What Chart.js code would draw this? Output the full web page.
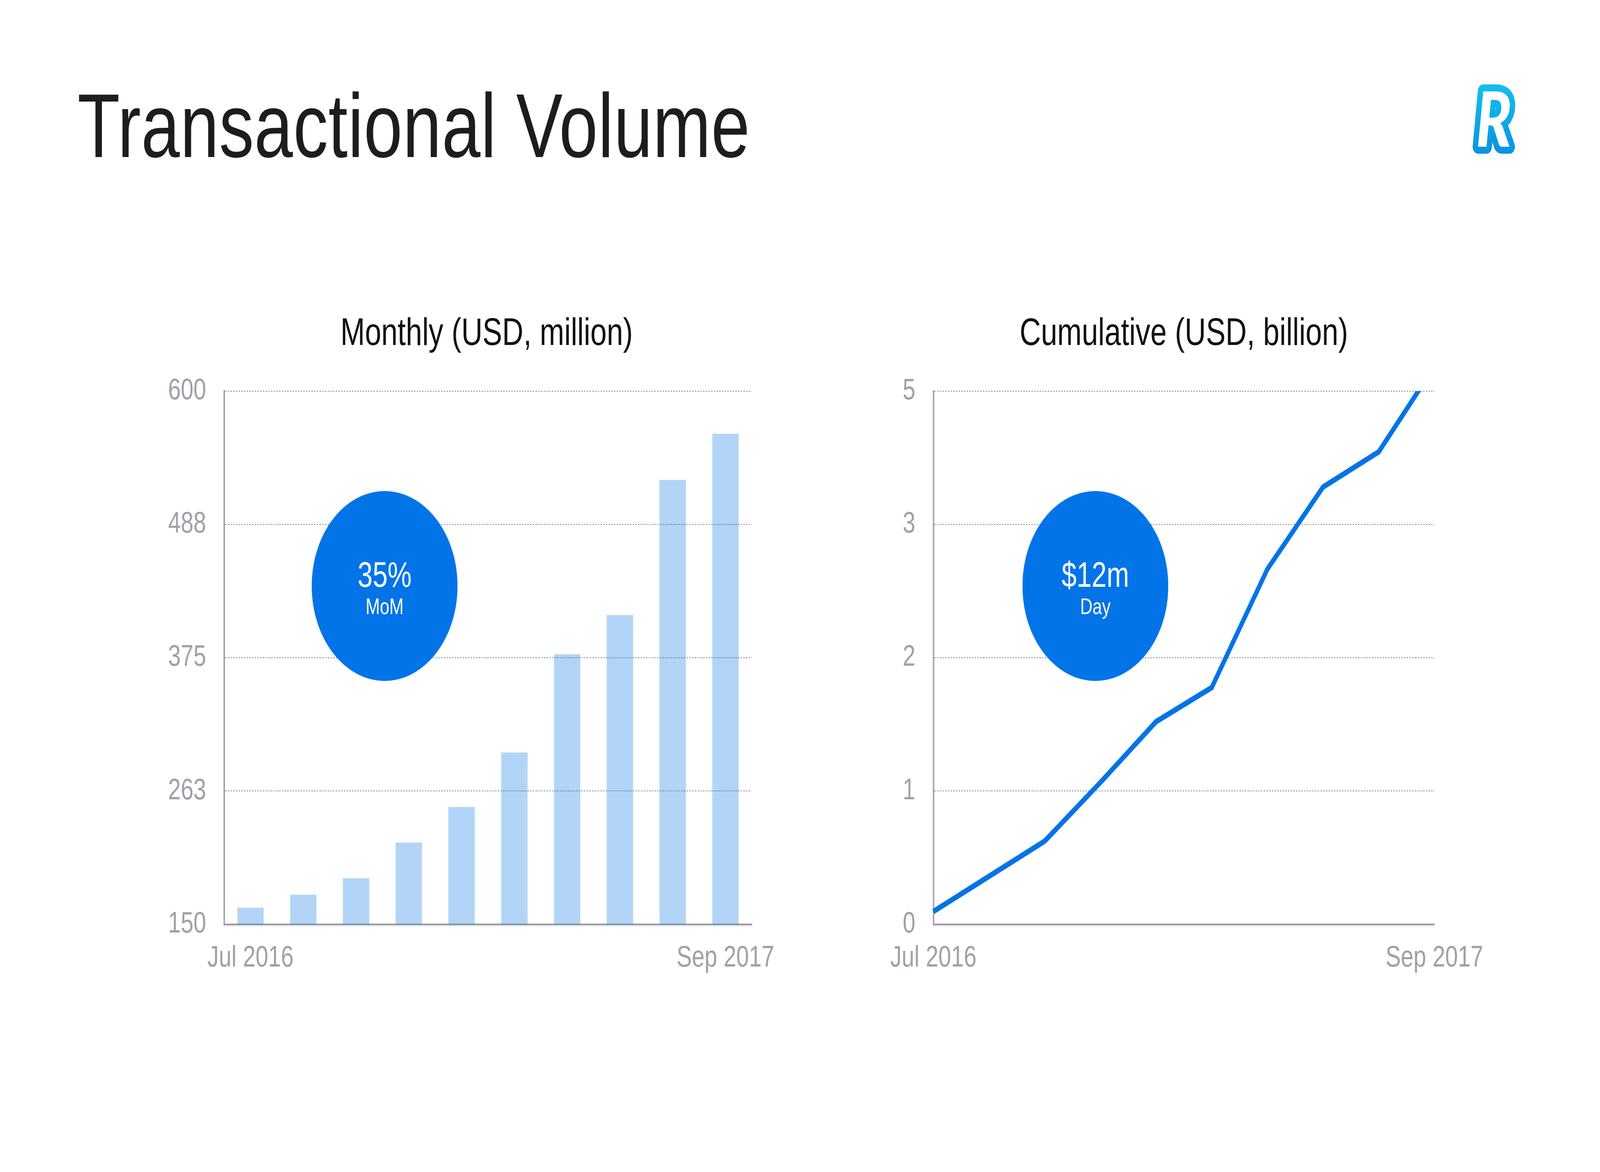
<!DOCTYPE html>
<html>
<head>
<meta charset="utf-8">
<title>Transactional Volume</title>
<script src="https://cdn.jsdelivr.net/npm/chart.js@4"></script>
<style>
html, body { margin: 0; padding: 0; background: #fff; overflow: hidden; }
body { font-family: "Liberation Sans", Arial, sans-serif; }
#stage { position: absolute; left: 0; top: 0; width: 5333px; height: 3000px; transform-origin: 0 0; background: #fff; }
.abs { position: absolute; white-space: nowrap; }
#title { left: 258px; top: 206px; font-size: 232px; line-height: 232px; letter-spacing: 1px; color: #1d1d1f; }
.sub { top: 800px; font-size: 98px; line-height: 98px; color: #111; transform: translateX(-50%); }
.bubble { width: 486px; height: 486px; border-radius: 50%; background: #0274e8; top: 1257px; }
.big { color: #fff; font-size: 90px; line-height: 90px; top: 1426px; transform: translateX(-50%); }
.small { color: #fff; font-size: 57px; line-height: 57px; top: 1524px; transform: translateX(-50%); }
canvas { position: absolute; }
</style>
</head>
<body>
<div id="stage">

<div id="title" class="abs">Transactional Volume</div>

<svg class="abs" style="left:4850px;top:150px" width="400" height="300">
  <defs>
    <linearGradient id="logoGrad" x1="0" y1="0" x2="0" y2="1">
      <stop offset="0" stop-color="#14c8f2"/>
      <stop offset="1" stop-color="#078ddd"/>
    </linearGradient>
  </defs>
  <text x="70" y="225" font-family="Lato, 'Liberation Sans', sans-serif" font-weight="900" font-style="italic"
        font-size="195" fill="#fff" stroke="url(#logoGrad)" stroke-width="36" stroke-linejoin="round"
        style="paint-order: stroke">R</text>
</svg>

<div class="abs sub" style="left:1622px">Monthly (USD, million)</div>
<div class="abs sub" style="left:3946px">Cumulative (USD, billion)</div>

<canvas id="chart-monthly" style="left:500px;top:891px" width="2286" height="1625"></canvas>
<canvas id="chart-cumulative" style="left:2864px;top:891px" width="2197" height="1625"></canvas>

<div class="abs bubble" style="left:1039px"></div>
<div class="abs big" style="left:1282px">35%</div>
<div class="abs small" style="left:1282px">MoM</div>

<div class="abs bubble" style="left:3408px"></div>
<div class="abs big" style="left:3651px">$12m</div>
<div class="abs small" style="left:3651px">Day</div>

</div>

<script>
// a janela real pode ser menor que 5333x3000: escala o palco inteiro
const stage = document.getElementById('stage');
stage.style.transform = 'scale(' + (window.innerWidth / 5333) + ',' + (window.innerHeight / 3000) + ')';

// Dados
const monthlyLabels = ['Jul 2016', '', '', '', '', '', '', '', '', 'Sep 2017'];
const monthlyValues = [164, 175, 189, 219, 249, 295, 378, 411, 525, 564];
const monthlyTicks = ['150', '263', '375', '488', '600'];

const cumulativeLabels = ['Jul 2016', '', '', '', '', '', '', '', '', 'Sep 2017'];
const cumulativeValues = [0.12, 0.45, 0.78, 1.33, 1.90, 2.22, 3.33, 4.10, 4.43, 5.23];
const cumulativeTicks = ['0', '1', '2', '3', '5'];

const FONT = '"Liberation Sans", Arial, sans-serif';
const axisGray = '#a0a4ab';
const tickGray = '#9da1a8';
const gridGray = '#a9acb1';

function opcoes(tickLabels, min, max, step) {
    return {
        responsive: false,
        devicePixelRatio: 1,
        animation: false,
        layout: { padding: { top: 110, right: 280, left: 0, bottom: 0 } },
        plugins: {
            legend: { display: false },
            tooltip: { enabled: false }
        },
        scales: {
            x: {
                grid: { display: false, drawTicks: false },
                border: { display: true, color: axisGray, width: 5 },
                ticks: {
                    autoSkip: false,
                    maxRotation: 0,
                    padding: 41,
                    color: tickGray,
                    font: { family: FONT, size: 76 }
                },
                afterFit: s => { s.height = 150; }
            },
            y: {
                min: min,
                max: max,
                grid: { color: gridGray, lineWidth: 3, drawTicks: false },
                border: { display: true, color: axisGray, width: 5, dash: [5, 4] },
                ticks: {
                    stepSize: step,
                    padding: 60,
                    color: tickGray,
                    font: { family: FONT, size: 76 },
                    callback: (v, i) => tickLabels[i]
                },
                afterFit: s => { s.width = 247; }
            }
        }
    };
}

new Chart(document.getElementById('chart-monthly').getContext('2d'), {
    type: 'bar',
    data: {
        labels: monthlyLabels,
        datasets: [{
            data: monthlyValues,
            backgroundColor: 'rgba(0, 115, 230, 0.3)',
            borderWidth: 0,
            barPercentage: 0.5,
            categoryPercentage: 1
        }]
    },
    options: opcoes(monthlyTicks, 150, 600, 112.5)
});

new Chart(document.getElementById('chart-cumulative').getContext('2d'), {
    type: 'line',
    data: {
        labels: cumulativeLabels,
        datasets: [{
            data: cumulativeValues,
            borderColor: '#0273e8',
            borderWidth: 14,
            pointRadius: 0,
            fill: false,
            tension: 0
        }]
    },
    options: opcoes(cumulativeTicks, 0, 5, 1.25)
});
</script>
</body>
</html>
